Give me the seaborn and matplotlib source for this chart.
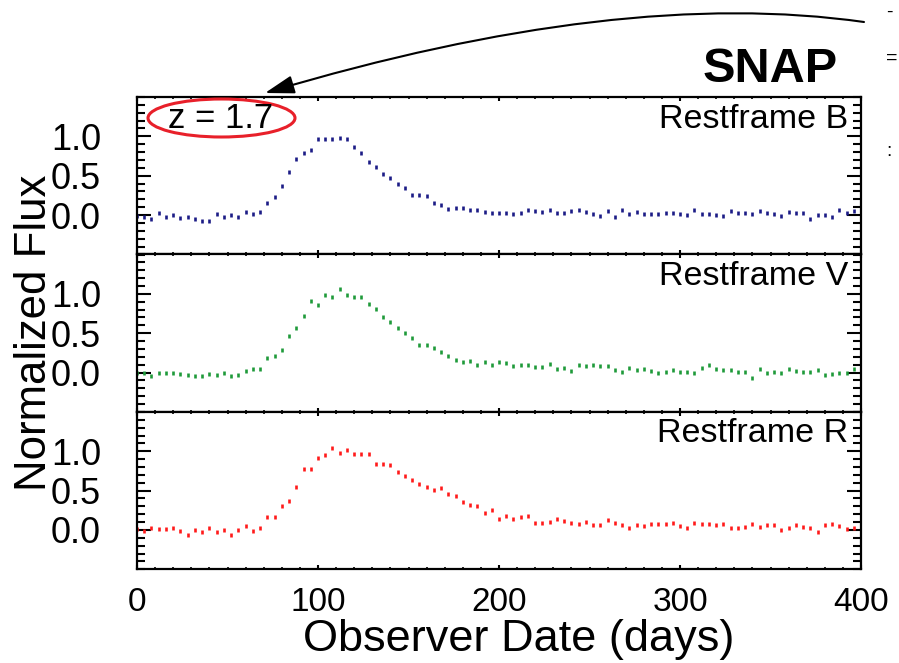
import numpy as np
import pandas as pd
import seaborn as sns
import matplotlib
matplotlib.use("Agg")
import matplotlib.pyplot as plt
from matplotlib.patches import Ellipse, FancyArrowPatch
from matplotlib.path import Path
from matplotlib.ticker import MultipleLocator, FixedLocator

# Observation epochs (days), one sample every 4 days
days = np.arange(0, 400, 4)

flux_b = [-0.01, -0.02, -0.05, 0.02, -0.03, 0.00, -0.04, -0.03, -0.05, -0.08,
          -0.08, 0.01, -0.02, 0.00, -0.02, 0.04, 0.01, 0.04, 0.15, 0.23,
          0.37, 0.55, 0.71, 0.79, 0.83, 0.96, 0.96, 0.96, 0.98, 0.96,
          0.87, 0.79, 0.68, 0.61, 0.52, 0.47, 0.40, 0.35, 0.26, 0.26,
          0.24, 0.15, 0.13, 0.08, 0.09, 0.09, 0.07, 0.07, 0.04, 0.03,
          0.03, 0.02, 0.01, 0.03, 0.07, 0.05, 0.04, 0.06, 0.03, 0.03,
          0.05, 0.06, 0.04, 0.01, -0.01, 0.05, -0.03, 0.06, 0.01, 0.04,
          0.01, 0.01, 0.01, 0.02, 0.03, 0.01, 0.00, 0.07, 0.01, 0.01,
          0.00, -0.01, 0.05, 0.03, 0.02, 0.01, 0.05, 0.02, 0.01, -0.01,
          0.04, 0.02, 0.02, -0.05, 0.00, 0.00, -0.03, 0.07, 0.02, 0.05]

flux_v = [0.00, 0.00, -0.05, -0.01, -0.01, -0.01, -0.02, -0.03, -0.04, -0.05,
          -0.02, -0.03, -0.01, -0.04, -0.03, 0.02, 0.05, 0.05, 0.18, 0.21,
          0.29, 0.47, 0.56, 0.72, 0.91, 0.86, 0.98, 0.96, 1.06, 0.98,
          0.96, 0.96, 0.87, 0.81, 0.70, 0.64, 0.57, 0.50, 0.44, 0.35,
          0.35, 0.31, 0.26, 0.21, 0.16, 0.13, 0.15, 0.09, 0.13, 0.10,
          0.13, 0.12, 0.08, 0.10, 0.09, 0.07, 0.07, 0.11, 0.05, 0.06,
          0.02, 0.09, 0.08, 0.09, 0.08, 0.08, 0.03, 0.01, 0.06, 0.03,
          0.04, 0.02, 0.00, 0.01, 0.03, 0.01, 0.01, -0.01, 0.06, 0.09,
          0.04, 0.03, 0.03, 0.01, 0.01, -0.07, 0.04, 0.00, 0.01, 0.00,
          0.04, 0.02, 0.01, 0.01, 0.03, -0.03, -0.02, 0.00, 0.00, 0.04]

flux_r = [0.01, -0.01, 0.02, 0.01, 0.01, 0.03, -0.01, -0.06, 0.00, -0.03,
          0.03, -0.03, 0.00, -0.07, 0.00, 0.05, -0.01, 0.03, 0.17, 0.16,
          0.30, 0.37, 0.54, 0.77, 0.77, 0.91, 0.95, 1.04, 0.98, 1.02,
          0.97, 0.97, 0.97, 0.84, 0.84, 0.83, 0.73, 0.68, 0.63, 0.58,
          0.54, 0.51, 0.53, 0.46, 0.43, 0.36, 0.32, 0.30, 0.21, 0.25,
          0.14, 0.18, 0.14, 0.17, 0.18, 0.09, 0.09, 0.10, 0.14, 0.12,
          0.09, 0.07, 0.10, 0.06, 0.06, 0.13, 0.09, 0.06, 0.03, 0.06,
          0.05, 0.08, 0.07, 0.08, 0.09, 0.05, 0.02, 0.09, 0.08, 0.07,
          0.06, 0.07, 0.03, 0.03, 0.04, 0.08, 0.04, 0.06, 0.06, 0.00,
          0.02, 0.06, 0.04, 0.02, -0.02, 0.06, 0.08, 0.05, 0.01, 0.03]

bands = ["Restframe B", "Restframe V", "Restframe R"]
band_colors = ["#1c1c86", "#1f9a3a", "#ff1a1a"]
y_ticks = [0.0, 0.5, 1.0]
y_tick_labels = ["0.0", "0.5", "1.0"]
x_ticks = [0, 100, 200, 300, 400]
x_tick_labels = ["0", "100", "200", "300", "400"]
redshift_label = "z = 1.7"
mission_label = "SNAP"

df = pd.concat([
    pd.DataFrame({"band": b, "day": days, "flux": f})
    for b, f in zip(bands, [flux_b, flux_v, flux_r])
], ignore_index=True)

sns.set_style("ticks")
plt.rcParams["font.family"] = ["Liberation Sans", "DejaVu Sans"]
plt.rcParams.update({"text.color": "black", "axes.labelcolor": "black",
                     "xtick.color": "black", "ytick.color": "black",
                     "axes.edgecolor": "black"})

W, H = 899, 663
fig = plt.figure(figsize=(W / 100, H / 100), dpi=100)


def px_rect(left, top, width, height):
    return [left / W, 1 - (top + height) / H, width / W, height / H]


left, right = 137, 861
panel_tops = [97.0, 254.5, 411.9]
panel_h = 157.4

axes = []
for i, (band, color) in enumerate(zip(bands, band_colors)):
    ax = fig.add_axes(px_rect(left, panel_tops[i], right - left, panel_h))
    sub = df[df["band"] == band]
    sns.scatterplot(data=sub, x="day", y="flux", ax=ax, marker="|",
                    s=11, linewidth=1.9, color=color, legend=False)
    ax.set_xlim(0, 400)
    ax.set_ylim(-0.5, 1.5)
    ax.yaxis.set_major_locator(FixedLocator(y_ticks))
    ax.set_yticklabels(y_tick_labels)
    ax.yaxis.set_minor_locator(MultipleLocator(0.1))
    ax.xaxis.set_major_locator(FixedLocator(x_ticks))
    ax.set_xticklabels(x_tick_labels)
    ax.xaxis.set_minor_locator(MultipleLocator(10))
    ax.tick_params(axis="y", which="major", direction="in", length=10,
                   width=1.5, left=True, right=True, labelsize=26, pad=26)
    ax.tick_params(axis="y", which="minor", direction="in", length=5.5,
                   width=1.5, left=True, right=True)
    ax.tick_params(axis="x", which="major", direction="in", length=3,
                   width=1.5, top=True, bottom=True, labelsize=24, pad=13)
    ax.tick_params(axis="x", which="minor", direction="in", length=1.5,
                   width=1.2, top=True, bottom=True)
    if i < 2:
        ax.tick_params(axis="x", labelbottom=False)
    for sp in ax.spines.values():
        sp.set_visible(True)
        sp.set_linewidth(1.6)
        sp.set_color("black")
    ax.set_xlabel("")
    ax.set_ylabel("")
    ax.text(0.982, 0.86, band, transform=ax.transAxes, ha="right",
            va="center", fontsize=24.5, color="black")
    axes.append(ax)

# Annotation layer in pixel coordinates
ov = fig.add_axes([0, 0, 1, 1], zorder=5)
ov.set_xlim(0, W)
ov.set_ylim(H, 0)
ov.axis("off")

ov.text(519, 640, "Observer Date (days)", ha="center", va="center",
        fontsize=32.5)
ov.text(35, 333, "Normalized Flux", ha="center", va="center",
        rotation=90, fontsize=31.5)

ov.add_patch(Ellipse((221.5, 118), 147, 38, fill=False,
                     edgecolor="#e8202a", linewidth=2.2))
ov.text(221, 119, redshift_label, ha="center", va="center", fontsize=25)

ov.text(838, 70, mission_label, ha="right", va="center", fontsize=35,
        fontweight="bold")

# Small marks along the right border
for yy, ch in [(12, "-"), (58, "="), (152, ":")]:
    ov.text(886, yy, ch, ha="left", va="center", fontsize=14)

arc = Path([(864, 22), (620, -13), (265, 93)],
           [Path.MOVETO, Path.CURVE3, Path.CURVE3])
ov.add_patch(FancyArrowPatch(path=arc,
                             arrowstyle="-|>,head_length=0.9,head_width=0.28",
                             mutation_scale=20, color="black", linewidth=1.5))

fig.savefig("out.png", dpi=100)
